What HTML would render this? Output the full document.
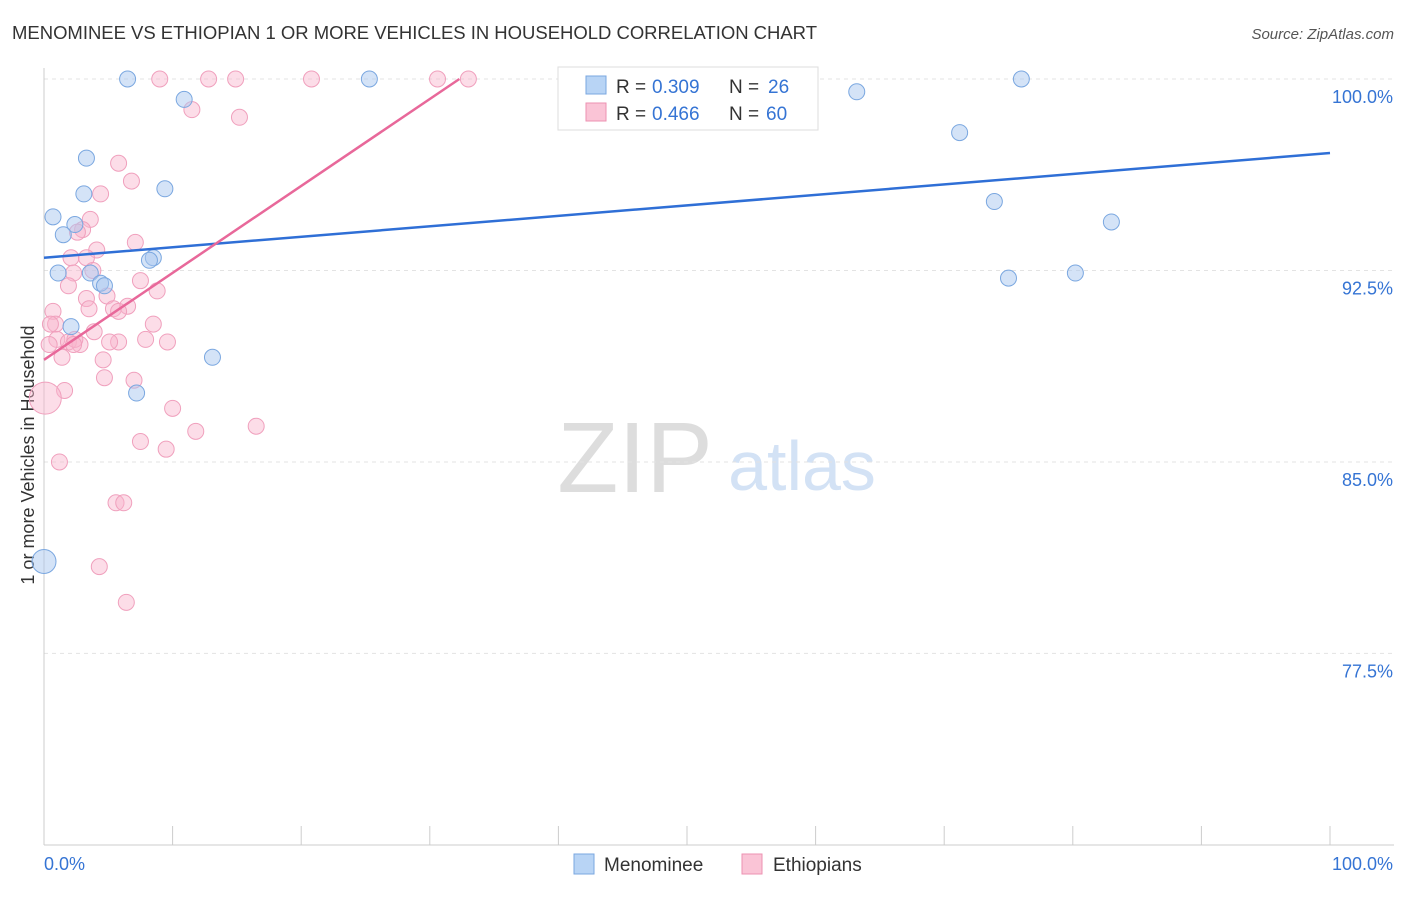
<!DOCTYPE html>
<html><head><meta charset="utf-8">
<style>
body{margin:0;background:#fff;font-family:"Liberation Sans",sans-serif;}
svg text{font-family:"Liberation Sans",sans-serif;}
</style></head>
<body>
<svg width="1406" height="892" id="chart">
<text x="12" y="39" font-size="18.5" fill="#333" textLength="805">MENOMINEE VS ETHIOPIAN 1 OR MORE VEHICLES IN HOUSEHOLD CORRELATION CHART</text>
<text x="1394" y="39" font-size="15" fill="#555" font-style="italic" text-anchor="end">Source: ZipAtlas.com</text>
<text x="34" y="455" font-size="18" fill="#333" text-anchor="middle" transform="rotate(-90 34 455)">1 or more Vehicles in Household</text>
<g>
<text x="635" y="492" font-size="100" fill="#ddd" font-family="Liberation Serif" text-anchor="middle">ZIP</text>
<text x="802" y="490" font-size="70" fill="#d3e2f5" text-anchor="middle">atlas</text>
</g>
<g id="grid"></g><g id="axes"></g><g id="pts"></g><g id="lines"></g>
<g>
<rect x="558" y="67" width="260" height="63" fill="#fff" stroke="#ddd"/>
<rect x="586" y="76" width="20" height="18" fill="#b8d4f5" stroke="#7aa7e0"/>
<rect x="586" y="103" width="20" height="18" fill="#fac4d6" stroke="#ec92b2"/>
<text x="616" y="93" font-size="19" fill="#333">R = </text><text x="652" y="93" font-size="19" fill="#3574d4">0.309</text>
<text x="729" y="93" font-size="19" fill="#333">N = </text><text x="768" y="93" font-size="19" fill="#3574d4">26</text>
<text x="616" y="120" font-size="19" fill="#333">R = </text><text x="652" y="120" font-size="19" fill="#3574d4">0.466</text>
<text x="729" y="120" font-size="19" fill="#333">N = </text><text x="766" y="120" font-size="19" fill="#3574d4">60</text>
</g>
<g>
<rect x="574" y="854" width="20" height="20" fill="#b8d4f5" stroke="#7aa7e0"/>
<text x="604" y="871" font-size="19" fill="#333">Menominee</text>
<rect x="742" y="854" width="20" height="20" fill="#fac4d6" stroke="#ec92b2"/>
<text x="773" y="871" font-size="19" fill="#333">Ethiopians</text>
</g>
</svg>
<script>
const yTicks=[100,92.5,85,77.5];
const yTickLabels=["100.0%","92.5%","85.0%","77.5%"];
const blueX=[6.5,25.3,76.0,10.9,63.2,71.2,3.3,9.4,3.1,0.7,2.4,1.5,73.9,83.0,8.5,8.2,1.1,3.6,75.0,80.2,4.4,4.7,2.1,13.1,7.2,0];
const blueY=[100,100,100,99.2,99.5,97.9,96.9,95.7,95.5,94.6,94.3,93.9,95.2,94.4,93.0,92.9,92.4,92.4,92.2,92.4,92.0,91.9,90.3,89.1,87.7,81.1];
const pinkX=[9.0,12.8,14.9,20.8,30.6,33.0,11.5,15.2,5.8,6.8,4.4,3.6,3.0,2.6,7.1,4.1,2.1,3.3,2.3,3.8,1.9,7.5,8.8,4.9,3.3,3.5,6.5,5.4,5.8,0.7,0.9,8.5,3.9,1.0,5.8,1.9,2.8,5.1,7.9,9.6,0.4,1.4,4.6,4.7,7.0,1.6,0.1,10.0,7.5,11.8,9.5,16.5,1.2,5.6,6.2,4.3,6.4,0.5,2.4,2.3];
const pinkY=[100,100,100,100,100,100,98.8,98.5,96.7,96.0,95.5,94.5,94.1,94.0,93.6,93.3,93.0,93.0,92.4,92.5,91.9,92.1,91.7,91.5,91.4,91.0,91.1,91.0,90.9,90.9,90.4,90.4,90.1,89.8,89.7,89.7,89.6,89.7,89.8,89.7,89.6,89.1,89.0,88.3,88.2,87.8,87.5,87.1,85.8,86.2,85.5,86.4,85.0,83.4,83.4,80.9,79.5,90.4,89.8,89.6];
const blueLine=[[0,93.0],[100,97.1]];
const pinkLine=[[0,89.0],[32.3,100]];
const X=v=>44+v*12.86, Y=v=>79+(100-v)*25.53;
const NS="http://www.w3.org/2000/svg";
function mk(p,t,a){const e=document.createElementNS(NS,t);for(const k in a)e.setAttribute(k,a[k]);document.getElementById(p).appendChild(e);return e;}
yTicks.forEach((t,i)=>{
 const g=mk('grid','line',{x1:44,x2:1394,y1:Y(t),y2:Y(t),stroke:'#e3e3e3','stroke-dasharray':'4,4'});
 
 
 const l=mk('grid','text',{x:1393,y:Y(t)+24,'font-size':18,fill:'#3574d4','text-anchor':'end'});
 l.textContent=yTickLabels[i];
 
 
});
const ax=mk('axes','line',{x1:44,x2:1394,y1:845,y2:845,stroke:'#ccc'});


const ay=mk('axes','line',{x1:44,x2:44,y1:68,y2:845,stroke:'#ccc'});


for(let i=0;i<=10;i++){const t=mk('axes','line',{x1:X(i*10),x2:X(i*10),y1:826,y2:845,stroke:'#ccc'});
 
 }
const x0=mk('axes','text',{x:44,y:870,'font-size':18,fill:'#3574d4'});x0.textContent='0.0%';


const x1=mk('axes','text',{x:1393,y:870,'font-size':18,fill:'#3574d4','text-anchor':'end'});x1.textContent='100.0%';


pinkX.forEach((v,i)=>{const big=(v<0.3&&pinkY[i]<88);const c=mk('pts','circle',{cx:X(v),cy:Y(pinkY[i]),r:big?16:8,fill:'rgba(248,180,204,0.45)',stroke:'#f0a0bd','stroke-width':1});
 
 });
blueX.forEach((v,i)=>{const big=(v<0.3&&blueY[i]<82);const c=mk('pts','circle',{cx:X(v),cy:Y(blueY[i]),r:big?12:8,fill:'rgba(170,200,240,0.5)',stroke:'#7aa7e0','stroke-width':1});
 
 });
const bl=mk('lines','line',{x1:X(blueLine[0][0]),y1:Y(blueLine[0][1]),x2:X(blueLine[1][0]),y2:Y(blueLine[1][1]),stroke:'#2f6fd6','stroke-width':2.5});


const pl=mk('lines','line',{x1:X(pinkLine[0][0]),y1:Y(pinkLine[0][1]),x2:X(pinkLine[1][0]),y2:Y(pinkLine[1][1]),stroke:'#e8689a','stroke-width':2.5});


</script>
</body></html>
